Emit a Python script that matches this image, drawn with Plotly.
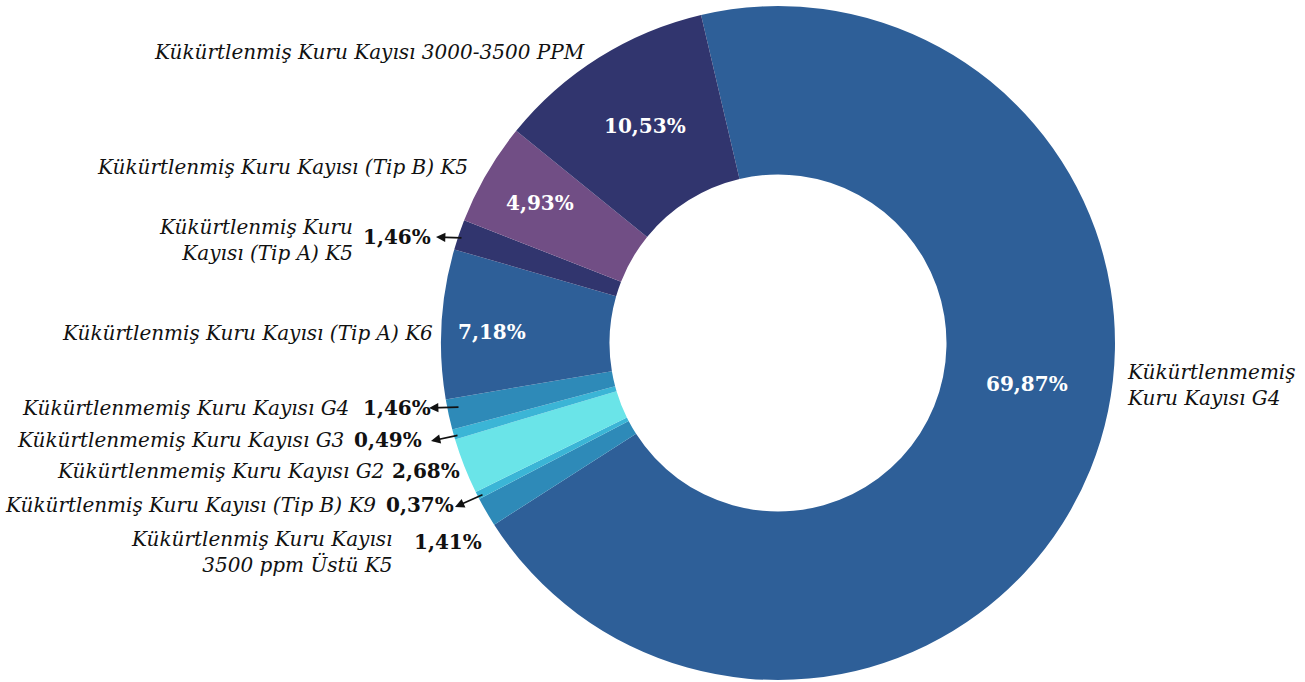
import plotly.graph_objects as go

W, H = 1305, 682

# slices in drawing order (clockwise from the top)
labels = [
    'Kükürtlenmemiş Kuru Kayısı G4',
    'Kükürtlenmiş Kuru Kayısı 3500 ppm Üstü K5',
    'Kükürtlenmiş Kuru Kayısı (Tip B) K9',
    'Kükürtlenmemiş Kuru Kayısı G2',
    'Kükürtlenmemiş Kuru Kayısı G3',
    'Kükürtlenmemiş Kuru Kayısı G4',
    'Kükürtlenmiş Kuru Kayısı (Tip A) K6',
    'Kükürtlenmiş Kuru Kayısı (Tip A) K5',
    'Kükürtlenmiş Kuru Kayısı (Tip B) K5',
    'Kükürtlenmiş Kuru Kayısı 3000-3500 PPM',
]
values = [69.87, 1.41, 0.37, 2.68, 0.49, 1.46, 7.18, 1.46, 4.93, 10.53]

colors = ['#2E5F98', '#2E8AB8', '#3BB5D6', '#6AE4E8', '#3BB5D6',
          '#2E8AB8', '#2E5F98', '#31356E', '#714E85', '#31356E']

# label text as shown (line breaks where the chart wraps)
display_labels = [
    'Kükürtlenmemiş<br>Kuru Kayısı G4',
    'Kükürtlenmiş Kuru Kayısı<br>3500 ppm Üstü K5',
    'Kükürtlenmiş Kuru Kayısı (Tip B) K9',
    'Kükürtlenmemiş Kuru Kayısı G2',
    'Kükürtlenmemiş Kuru Kayısı G3',
    'Kükürtlenmemiş Kuru Kayısı G4',
    'Kükürtlenmiş Kuru Kayısı (Tip A) K6',
    'Kükürtlenmiş Kuru<br>Kayısı (Tip A) K5',
    'Kükürtlenmiş Kuru Kayısı (Tip B) K5',
    'Kükürtlenmiş Kuru Kayısı 3000-3500 PPM',
]

LABEL_FONT = dict(family='DejaVu Serif', size=20, color='#111111', style='italic')
PCT_FONT_IN = dict(family='DejaVu Serif', size=20, color='white', weight='bold')
PCT_FONT_OUT = dict(family='DejaVu Serif', size=20, color='#111111', weight='bold')

# pixel layout of the text (x, y, anchor)
label_pos = [
    (1125, 385, 'left'), (394, 552, 'right'), (378, 505, 'right'),
    (386, 471, 'right'), (346, 440, 'right'), (351, 408, 'right'),
    (435, 333, 'right'), (355, 240, 'right'), (470, 167, 'right'),
    (587, 52, 'right'),
]
# (x, y, inside?) ; inside -> centred white text, else left-anchored black
pct_pos = [
    (1027, 384, True), (412, 542, False), (384, 505, False),
    (390, 471, False), (352, 440, False), (361, 408, False),
    (492, 332, True), (361, 237, False), (540, 203, True),
    (645, 126, True),
]
# arrows: slice index -> (head x, head y, tail x, tail y)
arrows = {
    7: (436, 237, 463, 238),
    5: (429, 408, 460, 407),
    4: (431, 441, 459, 435),
    2: (455, 507, 484, 494),
}


def px(x):
    return x / W


def py(y):
    return 1 - y / H


pie_labels = [l + '\u200b' * i for i, l in enumerate(labels)]

fig = go.Figure(go.Pie(
    labels=pie_labels,
    values=values,
    sort=False,
    direction='clockwise',
    rotation=-13.2,
    hole=0.5,
    marker=dict(colors=colors, line=dict(width=0)),
    textinfo='none',
    showlegend=False,
    domain=dict(x=[441 / W, 1115 / W], y=[1 - 680 / H, 1 - 6 / H]),
    hovertemplate='%{label}<br>%{value}%<extra></extra>',
))

annotations = []
for i, v in enumerate(values):
    pct = f'{v:.2f}%'.replace('.', ',')
    lx, ly, anchor = label_pos[i]
    annotations.append(dict(
        x=px(lx), y=py(ly), xref='paper', yref='paper', text=display_labels[i],
        showarrow=False, xanchor=anchor, yanchor='middle', align=anchor,
        font=LABEL_FONT,
    ))
    tx, ty, inside = pct_pos[i]
    annotations.append(dict(
        x=px(tx), y=py(ty), xref='paper', yref='paper', text=pct,
        showarrow=False, xanchor='center' if inside else 'left', yanchor='middle',
        font=PCT_FONT_IN if inside else PCT_FONT_OUT,
    ))
    if i in arrows:
        hx, hy, sx, sy = arrows[i]
        annotations.append(dict(
            x=px(hx), y=py(hy), xref='paper', yref='paper', text='',
            showarrow=True, ax=sx - hx, ay=sy - hy, axref='pixel', ayref='pixel',
            arrowhead=2, arrowsize=1.1, arrowwidth=1.7, arrowcolor='#111111',
            standoff=0, startstandoff=0,
        ))

fig.update_layout(
    width=W, height=H,
    margin=dict(l=0, r=0, t=0, b=0),
    paper_bgcolor='white',
    plot_bgcolor='white',
    annotations=annotations,
)

# drop the browser's default 8px page margin so the figure sits at 0,0
fig.write_html('out.html', config={'displayModeBar': False},
               post_script="document.body.style.margin='0';")
